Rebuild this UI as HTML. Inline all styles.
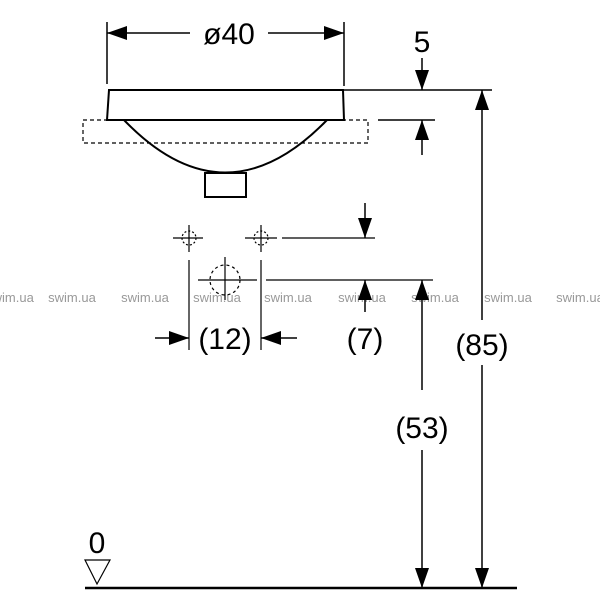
<!DOCTYPE html><html><head><style>body{margin:0;background:#fff}</style></head><body>
<svg width="600" height="600" xmlns="http://www.w3.org/2000/svg" font-family="Liberation Sans, sans-serif">
<defs><marker id="a" markerWidth="20" markerHeight="14" refX="20" refY="7" orient="auto" markerUnits="userSpaceOnUse"><path d="M0,0L20,7L0,14z" fill="#000"/></marker></defs>
<g fill="#999" font-size="13" text-anchor="middle">
<text x="10" y="302">swim.ua</text><text x="72" y="302">swim.ua</text><text x="145" y="302">swim.ua</text><text x="217" y="302">swim.ua</text><text x="288" y="302">swim.ua</text><text x="362" y="302">swim.ua</text><text x="435" y="302">swim.ua</text><text x="508" y="302">swim.ua</text><text x="580" y="302">swim.ua</text>
</g>
<g stroke="#000" fill="none" stroke-width="1.5">
<path d="M109,90L343,90L344,120L107,120Z" stroke-width="2"/>
<rect x="83" y="120" width="285" height="23" stroke-dasharray="4,3" stroke-width="1.2"/>
<path d="M124,120Q225,225 327,120" stroke-width="2"/>
<rect x="205" y="173" width="41" height="24" fill="#fff" stroke-width="2"/>
<line x1="107" y1="22" x2="107" y2="84"/><line x1="344" y1="22" x2="344" y2="86"/>
<line x1="190" y1="33" x2="107" y2="33" marker-end="url(#a)"/>
<line x1="268" y1="33" x2="344" y2="33" marker-end="url(#a)"/>
<line x1="344" y1="90" x2="492" y2="90"/><line x1="378" y1="120" x2="435" y2="120"/>
<line x1="422" y1="58" x2="422" y2="90" marker-end="url(#a)"/>
<line x1="422" y1="155" x2="422" y2="120" marker-end="url(#a)"/>
<line x1="482" y1="320" x2="482" y2="90" marker-end="url(#a)"/>
<line x1="482" y1="365" x2="482" y2="588" marker-end="url(#a)"/>
<line x1="422" y1="390" x2="422" y2="280" marker-end="url(#a)"/>
<line x1="422" y1="450" x2="422" y2="588" marker-end="url(#a)"/>
<line x1="85" y1="588" x2="517" y2="588" stroke-width="2.5"/>
<path d="M85,560L110,560L97,584Z" stroke-width="1.2"/>
<g stroke-width="1.2">
<line x1="173" y1="238" x2="203" y2="238"/><line x1="189" y1="225" x2="189" y2="252"/>
<circle cx="189" cy="238" r="7" stroke-dasharray="2,2"/>
<line x1="245" y1="238" x2="277" y2="238"/><line x1="261" y1="225" x2="261" y2="252"/>
<circle cx="261" cy="238" r="7" stroke-dasharray="2,2"/>
<line x1="282" y1="238" x2="375" y2="238"/>
<circle cx="225" cy="280" r="15" stroke-dasharray="3,3"/>
<line x1="198" y1="280" x2="257" y2="280"/><line x1="225" y1="257" x2="225" y2="300"/>
<line x1="266" y1="280" x2="433" y2="280"/>
<line x1="189" y1="260" x2="189" y2="350"/><line x1="261" y1="260" x2="261" y2="350"/>
</g>
<line x1="365" y1="203" x2="365" y2="238" marker-end="url(#a)"/>
<line x1="365" y1="312" x2="365" y2="280" marker-end="url(#a)"/>
<line x1="155" y1="338" x2="189" y2="338" marker-end="url(#a)"/>
<line x1="297" y1="338" x2="261" y2="338" marker-end="url(#a)"/>
</g>
<g font-size="30" text-anchor="middle" fill="#000">
<rect x="190" y="14" width="78" height="36" fill="#fff"/>
<text x="229" y="44">ø40</text>
<text x="422" y="52">5</text>
<text x="225" y="349">(12)</text>
<text x="365" y="349">(7)</text>
<text x="482" y="355">(85)</text>
<text x="422" y="438">(53)</text>
<text x="97" y="553">0</text>
</g>
</svg>
</body></html>
